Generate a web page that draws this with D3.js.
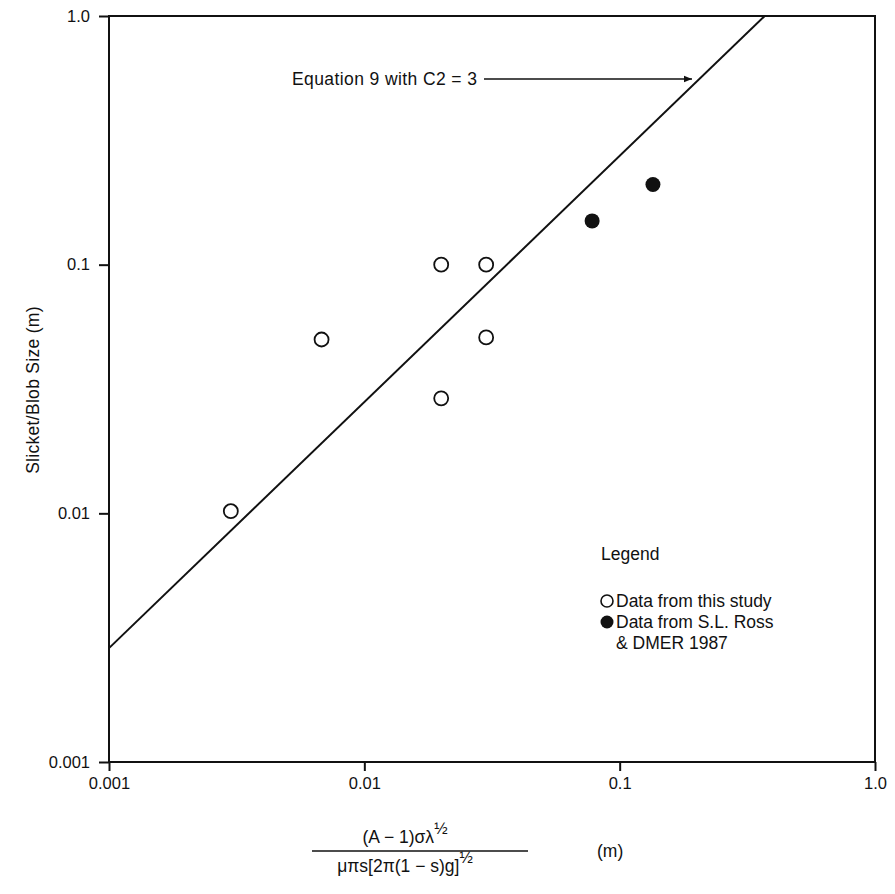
<!DOCTYPE html>
<html><head><meta charset="utf-8">
<script src="https://cdn.jsdelivr.net/npm/d3@7"></script>
<style>body{margin:0;background:#fff}svg{display:block}text{font-family:"Liberation Sans",Arial,sans-serif;fill:#111}</style>
</head><body><svg id="c" width="895" height="894"></svg>
<script>
// data
const xTicks = [0.001, 0.01, 0.1, 1.0];
const xTickLabels = ["0.001", "0.01", "0.1", "1.0"];
const yTicks = [0.001, 0.01, 0.1, 1.0];
const yTickLabels = ["0.001", "0.01", "0.1", "1.0"];
const studyX = [0.003, 0.0068, 0.02, 0.03, 0.03, 0.02];
const studyY = [0.0102, 0.05, 0.1, 0.1, 0.051, 0.029];
const rossX = [0.078, 0.135];
const rossY = [0.15, 0.21];
const eqLineX = [0.001, 0.37];
const eqLineY = [0.00287, 1.0];

const svg = d3.select("#c");
const L = 109, R = 875, T = 16, B = 762;
const x = d3.scaleLog().domain([0.001, 1]).range([L, R]);
const y = d3.scaleLog().domain([0.001, 1]).range([B, T]);
const FONT = '"Liberation Sans",Arial,sans-serif';

// frame
svg.append("rect").attr("x", L).attr("y", T).attr("width", R - L).attr("height", B - T)
  .attr("fill", "none").attr("stroke", "#111").attr("stroke-width", 2);

// axes
const xAxis = d3.axisBottom(x).tickValues(xTicks).tickSize(9).tickPadding(6)
  .tickFormat((d, i) => xTickLabels[i]);
const gx = svg.append("g").attr("transform", `translate(0,${B})`).call(xAxis);
const yAxis = d3.axisLeft(y).tickValues(yTicks).tickSize(10).tickPadding(9)
  .tickFormat((d, i) => yTickLabels[i]);
const gy = svg.append("g").attr("transform", `translate(${L},0)`).call(yAxis);
[gx, gy].forEach(g => {
  g.attr("font-size", 16.5).attr("font-family", FONT);
  g.select(".domain").remove();
  g.selectAll(".tick line").attr("stroke", "#111").attr("stroke-width", 2);
  g.selectAll(".tick text").attr("fill", "#111");
});

// equation line
const lineData = eqLineX.map((d, i) => [d, eqLineY[i]]);
svg.append("path").datum(lineData)
  .attr("d", d3.line().x(d => x(d[0])).y(d => y(d[1])))
  .attr("stroke", "#111").attr("stroke-width", 2).attr("fill", "none");

// points
svg.append("g").selectAll("circle").data(studyX.map((d, i) => [d, studyY[i]])).join("circle")
  .attr("cx", d => x(d[0])).attr("cy", d => y(d[1])).attr("r", 7)
  .attr("fill", "#fff").attr("stroke", "#111").attr("stroke-width", 1.8);
svg.append("g").selectAll("circle").data(rossX.map((d, i) => [d, rossY[i]])).join("circle")
  .attr("cx", d => x(d[0])).attr("cy", d => y(d[1])).attr("r", 7.5)
  .attr("fill", "#111");

// annotation
svg.append("defs").append("marker").attr("id", "ah").attr("viewBox", "0 0 10 10")
  .attr("refX", 10).attr("refY", 5).attr("markerWidth", 13).attr("markerHeight", 8)
  .attr("markerUnits", "userSpaceOnUse").attr("orient", "auto")
  .append("path").attr("d", "M0,1 L10,5 L0,9 Z").attr("fill", "#111");
svg.append("text").attr("x", 292).attr("y", 85).attr("font-size", 17.5)
  .attr("letter-spacing", 0.4).text("Equation 9 with C2 = 3");
svg.append("line").attr("x1", 484).attr("y1", 79).attr("x2", 692).attr("y2", 79)
  .attr("stroke", "#111").attr("stroke-width", 1.5).attr("marker-end", "url(#ah)");

// y label
svg.append("text").attr("transform", "translate(39,390) rotate(-90)").attr("text-anchor", "middle")
  .attr("font-size", 17.5).attr("letter-spacing", 0.3).text("Slicket/Blob Size (m)");

// legend
svg.append("text").attr("x", 601).attr("y", 560).attr("font-size", 17.5).text("Legend");
svg.append("circle").attr("cx", 607).attr("cy", 601).attr("r", 6).attr("fill", "#fff").attr("stroke", "#111").attr("stroke-width", 1.6);
svg.append("text").attr("x", 616).attr("y", 607).attr("font-size", 17.5).text("Data from this study");
svg.append("circle").attr("cx", 607).attr("cy", 622).attr("r", 6.5).attr("fill", "#111");
svg.append("text").attr("x", 616).attr("y", 628).attr("font-size", 17.5).text("Data from S.L. Ross");
svg.append("text").attr("x", 616).attr("y", 649).attr("font-size", 17.5).text("& DMER 1987");

// x label (fraction)
const num = svg.append("text").attr("x", 405).attr("y", 843).attr("text-anchor", "middle").attr("font-size", 17.5);
num.append("tspan").text("(A \u2212 1)\u03c3\u03bb");
num.append("tspan").attr("font-size", 16).attr("dy", -9).text("\u00bd");
svg.append("line").attr("x1", 312).attr("x2", 528).attr("y1", 851).attr("y2", 851).attr("stroke", "#111").attr("stroke-width", 1.3);
const den = svg.append("text").attr("x", 405).attr("y", 872).attr("text-anchor", "middle").attr("font-size", 17.5);
den.append("tspan").text("\u03bc\u03c0s[2\u03c0(1 \u2212 s)g]");
den.append("tspan").attr("font-size", 16).attr("dy", -9).text("\u00bd");
svg.append("text").attr("x", 597).attr("y", 857).attr("font-size", 17.5).text("(m)");
</script></body></html>
